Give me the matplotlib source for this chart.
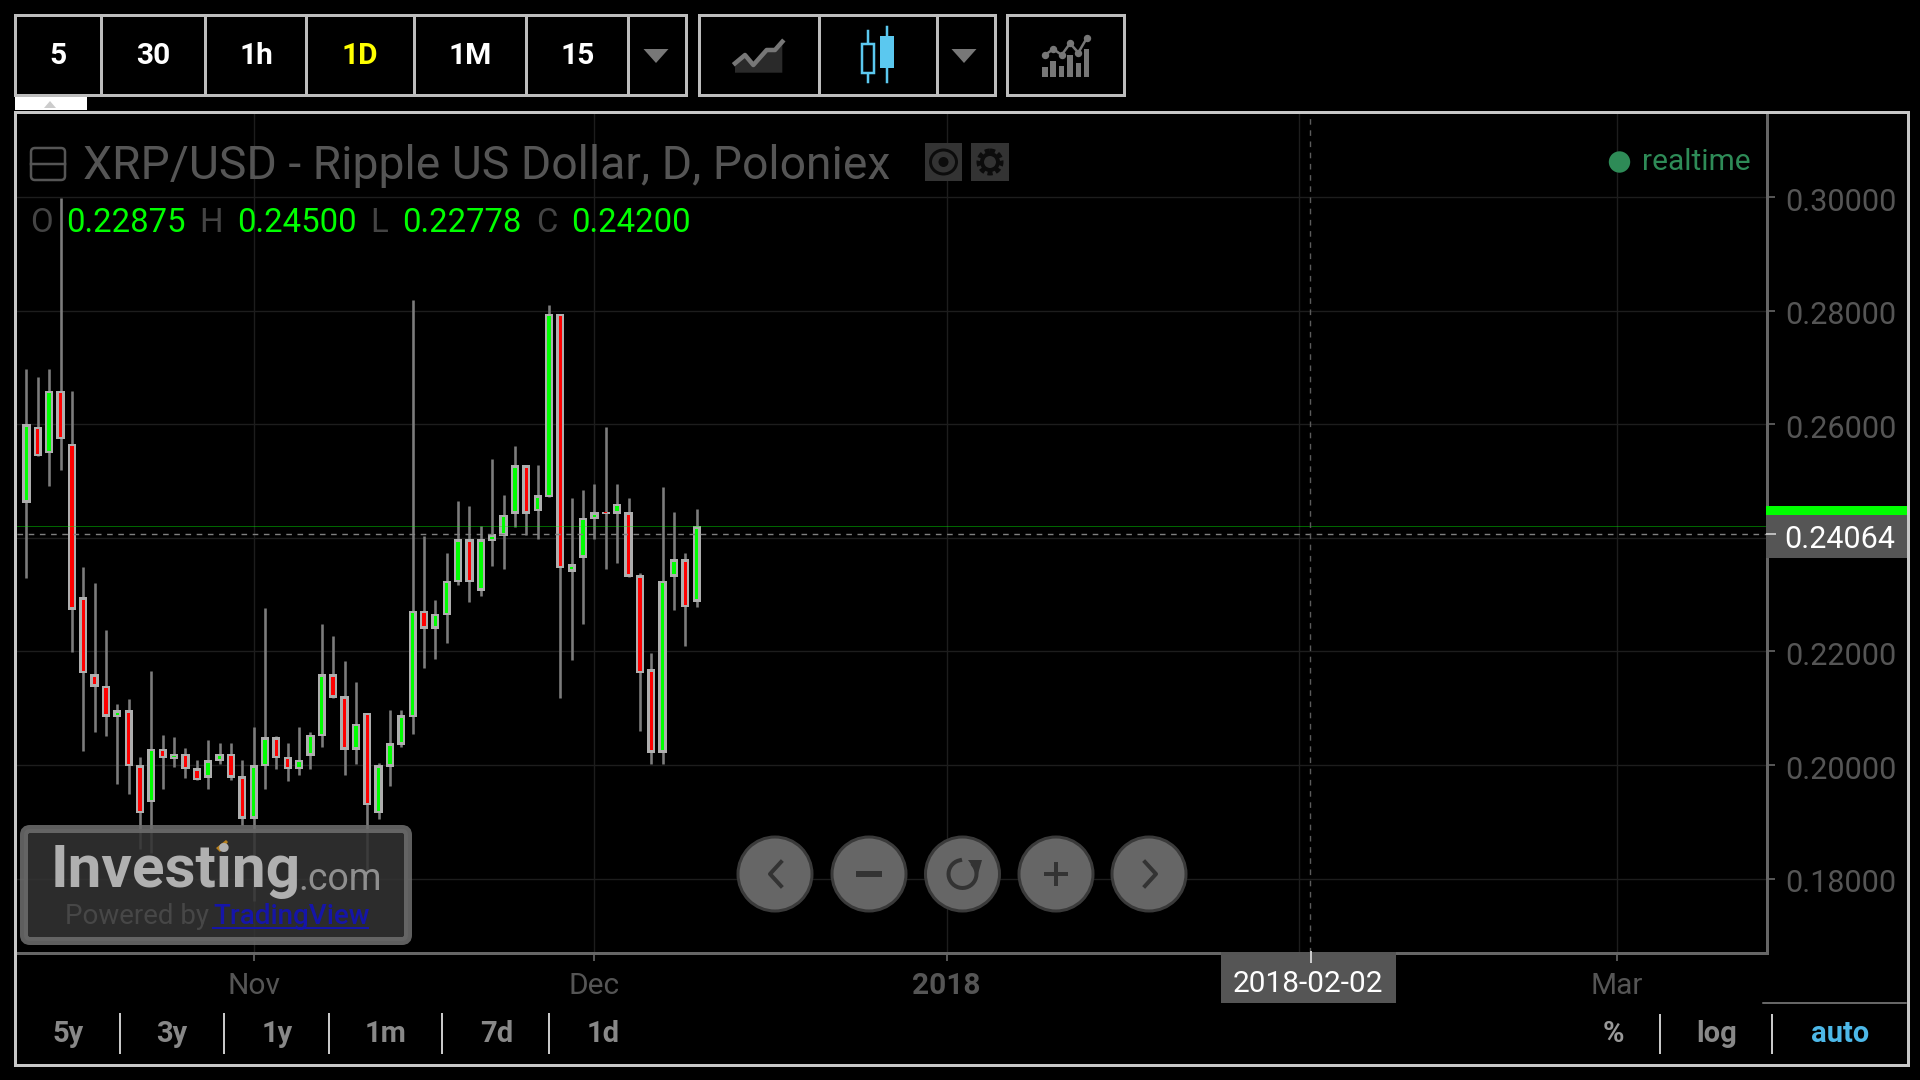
import matplotlib
matplotlib.use('Agg')
import matplotlib.pyplot as plt
import matplotlib.dates as mdates
from matplotlib.patches import Rectangle, Circle, Ellipse, Polygon, FancyBboxPatch
from matplotlib.transforms import ScaledTranslation
import numpy as np
import pandas as pd

plt.rcParams['font.family'] = ['Roboto', 'DejaVu Sans']

# daily candles
first_day = '2017-10-12'
opens = [.24621, .25957, .25486, .26586, .25659, .22955, .21595, .21399, .20841, .20966,
         .20000, .19347, .20290, .20102, .20196, .19945, .19779, .20070, .20196, .19803,
         .19056, .19976, .20487, .20141, .19929, .20165, .20503, .21595, .21210, .20267,
         .20919, .19155, .19965, .20358, .20845, .22712, .22395, .22641, .23216, .23973,
         .23069, .23938, .24038, .24425, .25276, .24472, .24713, .27946, .23404, .23650,
         .24325, .24460, .24425, .24454, .23339, .21690, .20217, .23316, .23627, .22875]
highs = [.26979, .26838, .26979, .29982, .26586, .23489, .23206, .22373, .21069, .21163,
         .20141, .21650, .20534, .20487, .20298, .20094, .20440, .20393, .20393, .20094,
         .20676, .22766, .20518, .20393, .20676, .20581, .22483, .22279, .21839, .21454,
         .20919, .20030, .20969, .20969, .28187, .24032, .22905, .23727, .24654, .24560,
         .24208, .25382, .24754, .25622, .25276, .25276, .28093, .27946, .24695, .24842,
         .24947, .25957, .24947, .24695, .23386, .21978, .24889, .24454, .23727, .24500]
lows = [.23301, .25439, .24904, .25187, .21996, .20251, .20581, .20503, .19669, .19481,
        .18521, .18450, .19575, .19968, .19779, .19732, .19575, .20015, .19732, .18944,
        .17600, .19575, .19921, .19725, .19827, .19921, .20314, .21186, .19827, .20015,
        .18100, .19049, .19630, .20311, .20546, .21708, .21861, .22142, .23163, .22870,
        .22976, .23504, .23457, .24185, .24044, .23985, .24713, .21174, .21849, .22483,
        .23985, .23457, .23551, .23316, .20593, .20018, .20018, .22729, .22095, .22778]
closes = [.26004, .25439, .26586, .25737, .22735, .21619, .21375, .20848, .20966, .19976,
          .19151, .20290, .20117, .20196, .19929, .19732, .20086, .20196, .19779, .19056,
          .20000, .20487, .20117, .19929, .20094, .20534, .21595, .21186, .20267, .20723,
          .19292, .20000, .20387, .20875, .22712, .22395, .22665, .23246, .23973, .23216,
          .23973, .24067, .24408, .25276, .24425, .24748, .27946, .23463, .23533, .24355,
          .24454, .24419, .24601, .23316, .21620, .20217, .23246, .23627, .22782, .24200]

price_ticks = [0.18, 0.20, 0.22, 0.24, 0.26, 0.28, 0.30]
date_ticks = ['2017-11-01', '2017-12-01', '2018-01-01', '2018-02-01', '2018-03-01']
date_labels = ['Nov', 'Dec', '2018', '', 'Mar']
last_close = 0.24200
cross_price = 0.24064
cross_date = '2018-02-02'

periods = ['5', '30', '1h', '1D', '1M', '15']
ranges = ['5y', '3y', '1y', '1m', '7d', '1d']

GREEN = '#00ff00'
RED = '#ff0000'
BLUE = '#5bc8ef'

fig = plt.figure(figsize=(19.2, 10.8), dpi=100, facecolor='black')
px = 0.72  # one pixel in points

# price chart
ax = fig.add_axes([17 / 1920, 1 - 953 / 1080, 1750 / 1920, 840 / 1080], facecolor='black')
days = mdates.date2num(pd.date_range(first_day, periods=len(opens)))
nov1 = mdates.date2num(pd.Timestamp('2017-11-01'))
ax.set_xlim(nov1 - 20.83, nov1 + 133.22)
ax.set_ylim(0.1669, 0.3148)

o = np.array(opens)
c = np.array(closes)
top = np.maximum(o, c)
bottom = np.minimum(o, c)
height = top - bottom
pad = 0.00044
fill_h = np.where(height > 2 * pad, height - 2 * pad, height * 0.5)
fill_col = [GREEN if b >= a else RED for a, b in zip(opens, closes)]

ax.vlines(days, lows, highs, color='#7c7c7c', lw=2.6 * px, zorder=3)
ax.bar(days, height, bottom=bottom, width=0.72, color='#aeaeae', zorder=4)
ax.bar(days, fill_h, bottom=top - (height + fill_h) / 2, width=0.3, color=fill_col, zorder=5)

ax.axhline(last_close, color=GREEN, lw=1 * px, ls=(0, (1, 1)), alpha=0.8, zorder=6)
ax.axhline(cross_price, color='#808080', lw=1.4 * px, ls=(0, (4, 4)), zorder=6)
ax.axvline(mdates.date2num(pd.Timestamp(cross_date)), color='#5c5c5c', lw=1.4 * px, ls=(0, (4, 4)), zorder=6)

ax.set_xticks(mdates.date2num(pd.to_datetime(date_ticks)))
ax.set_xticklabels(date_labels, fontsize=21.5, color='#555555')
ax.get_xticklabels()[2].set_fontweight('bold')
ax.set_yticks(price_ticks)
ax.yaxis.tick_right()
ax.set_yticklabels(['%.5f' % p for p in price_ticks], fontsize=22, color='#555555')
ax.tick_params(axis='x', length=6, width=2 * px, color='#555555', pad=8)
ax.tick_params(axis='y', length=6, width=2 * px, color='#555555', pad=7)
nudge = ScaledTranslation(0, -2 / 100, fig.dpi_scale_trans)
for t in ax.get_yticklabels():
    t.set_transform(t.get_transform() + nudge)
ax.grid(True, color='#1d1d1d', lw=1.4 * px, zorder=0)
ax.set_axisbelow(True)
for s in ['left', 'top']:
    ax.spines[s].set_visible(False)
for s in ['right', 'bottom']:
    ax.spines[s].set_color('#666666')
    ax.spines[s].set_linewidth(3 * px)

# everything around the chart is drawn in pixel coordinates
ui = fig.add_axes([0, 0, 1, 1], zorder=10)
ui.set_xlim(0, 1920)
ui.set_ylim(1080, 0)
ui.axis('off')
ui.patch.set_alpha(0)


def box(x0, y0, x1, y1, **kw):
    ui.add_patch(Rectangle((x0, y0), x1 - x0, y1 - y0, **kw))


def line(xs, ys, color='#c8c8c8', lw=3, **kw):
    ui.plot(xs, ys, color=color, lw=lw * px, **kw)


def label(x, y, s, color, size, weight='normal', ha='center', **kw):
    ui.text(x, y, s, color=color, fontsize=size, fontweight=weight, ha=ha, va='center', **kw)


# outer frame
line([15, 1907.5, 1907.5, 15, 15], [112, 112, 1065, 1065, 112], solid_joinstyle='miter')
line([1763, 1906], [1003, 1003], color='#888888', lw=1.5)

# toolbar
for x0, x1 in [(15, 686), (699, 995), (1007, 1124)]:
    box(x0, 15, x1, 95, fill=False, ec='#bdbdbd', lw=3 * px)
for x in [101, 205, 306, 414, 526, 628, 819, 937]:
    line([x, x], [15, 95], color='#bdbdbd')
for x, s in zip([58, 153, 256, 360, 470, 578], periods):
    label(x, 55.5, s, '#ffff00' if s == '1D' else 'white', 21.5, 'bold')
for x in [656, 964]:
    ui.add_patch(Polygon([(x - 12.5, 49), (x + 12.5, 49), (x, 63)], fc='#777777'))

# tab below toolbar
box(15, 97, 87, 110, fc='white')
ui.add_patch(Polygon([(44, 108), (56, 108), (50, 101)], fc='#cccccc'))

# line icon
ic_x = np.array([45, 75, 100, 140, 165, 187]) / 3 + 720
ic_y = np.array([190, 165, 195, 150, 150, 125]) / 3
ui.add_patch(Polygon(list(zip(ic_x, ic_y)) + [(ic_x[-1], 72.7), (ic_x[0], 72.7)], fc='#2a2a2a'))
line(ic_x, ic_y, color='#777777', lw=4.5)

# candle icon
line([867.7, 867.7], [30.7, 82], color=BLUE, lw=2.5)
box(862, 44, 874, 73, fc='black', ec=BLUE, lw=2.5 * px, zorder=3)
line([886.7, 886.7], [27, 82], color=BLUE, lw=2.5)
box(880, 36, 894, 68, fc=BLUE, zorder=3)

# indicators icon
for x0, y0 in [(967, 200), (991, 182), (1017, 198), (1042, 165), (1067, 190), (1092, 148)]:
    ui.add_patch(Rectangle((x0 / 3 + 720, y0 / 3), 5.2, (232 - y0) / 3, fc='#777777'))
ind_x = np.array([975, 1000, 1025, 1050, 1075, 1100]) / 3 + 720
ind_y = np.array([165, 147, 165, 130, 158, 115]) / 3
line(ind_x, ind_y, color='#777777', lw=2.5, marker='o', ms=6 * px)

# title row
ui.add_patch(FancyBboxPatch((31, 148), 34, 32, boxstyle='round,pad=0,rounding_size=4', fill=False, ec='#555555', lw=2.5 * px))
line([31, 65], [164, 164], color='#555555', lw=2.5)
label(83, 165.5, 'XRP/USD - Ripple US Dollar, D, Poloniex', '#555555', 33.3, ha='left')
box(925, 143, 962, 181, fc='#333333')
box(971, 143, 1009, 181, fc='#333333')
ui.add_patch(Ellipse((943.5, 162), 26, 24, fill=False, ec='#0c0c0c', lw=3 * px))
ui.add_patch(Circle((943.5, 162), 5, fc='#0c0c0c'))
ui.add_patch(Circle((990, 162), 11, fill=False, ec='#0c0c0c', lw=5 * px, ls=(0, (1, 0.6))))
ui.add_patch(Circle((990, 162), 8, fill=False, ec='#0c0c0c', lw=4 * px))

# OHLC row
for x, s in zip([41, 211, 379, 547], ['O', 'H', 'L', 'C']):
    label(x, 222.5, s, '#444444', 23.7)
for x, v in zip([66, 237, 402, 571], [opens[-1], highs[-1], lows[-1], closes[-1]]):
    label(x, 222.5, '%.5f' % v, GREEN, 23.7, ha='left')

# realtime flag
ui.add_patch(Circle((1619.5, 162), 10.7, fc='#2e8b57'))
label(1642, 162.5, 'realtime', '#2e8b57', 21.5, ha='left')

# last price labels
box(1766, 506, 1907, 514.5, fc=GREEN)
box(1766, 514.5, 1907, 558, fc='#555555')
line([1767, 1775], [534, 534], color='#bbbbbb', lw=2)
label(1784, 539, '%.5f' % cross_price, 'white', 22, ha='left')
box(1221, 952, 1395.5, 1003, fc='#555555')
line([1310.5, 1310.5], [952, 962], color='#cccccc', lw=2)
label(1308, 984, cross_date, 'white', 21.5)

# zoom buttons
for x in [775, 869, 962.5, 1056, 1149]:
    ui.add_patch(Circle((x, 874), 37, fc='#666666', ec='#3a3a3a', lw=3 * px))
line([781, 770, 781], [862, 874, 886], color='#333333', lw=4)
line([859, 879], [874, 874], color='#333333', lw=6)
theta = np.radians(np.arange(-40, 270, 10))
line(962.5 + 14 * np.cos(theta), 874 + 14 * np.sin(theta), color='#333333', lw=4)
ui.add_patch(Polygon([(968, 860), (982, 860), (978, 874)], fc='#333333'))
line([1046, 1066], [874, 874], color='#333333', lw=4)
line([1056, 1056], [864, 884], color='#333333', lw=4)
line([1145, 1156, 1145], [862, 874, 886], color='#333333', lw=4)

# watermark
ui.add_patch(FancyBboxPatch((24, 829), 384, 112, boxstyle='round,pad=0,rounding_size=6', fc='#333333', ec='#6c6c6c', lw=8 * px, alpha=0.88))
label(51, 871, 'Investing', '#b0b0b0', 43.5, 'bold', ha='left')
label(298, 879, '.com', '#8f8f8f', 27, ha='left')
ui.add_patch(Polygon([(216, 848), (226, 840), (228, 842), (220, 852)], fc='#b8801c'))
label(65, 916, 'Powered by', '#474747', 20, ha='left')
label(213, 916, 'TradingView', '#1515a8', 20, 'medium', ha='left')
line([213, 368], [928, 928], color='#1515a8', lw=2)

# bottom bar
for x, s in zip([68.6, 172, 277.5, 386, 497, 603], ranges):
    label(x, 1033.5, s, '#888888', 21, 'bold')
for x in [119.6, 224, 328.5, 441.8, 548.6]:
    line([x, x], [1014, 1053], color='#c8c8c8', lw=2)
label(1613, 1033.5, '%', '#999999', 21, 'bold')
label(1717, 1033.5, 'log', '#888888', 21, 'bold')
label(1840, 1033.5, 'auto', '#4db8e8', 21, 'bold')
for x in [1660, 1772]:
    line([x, x], [1015, 1053], color='#c8c8c8', lw=2)

fig.savefig('out.png', dpi=100, facecolor='black')
